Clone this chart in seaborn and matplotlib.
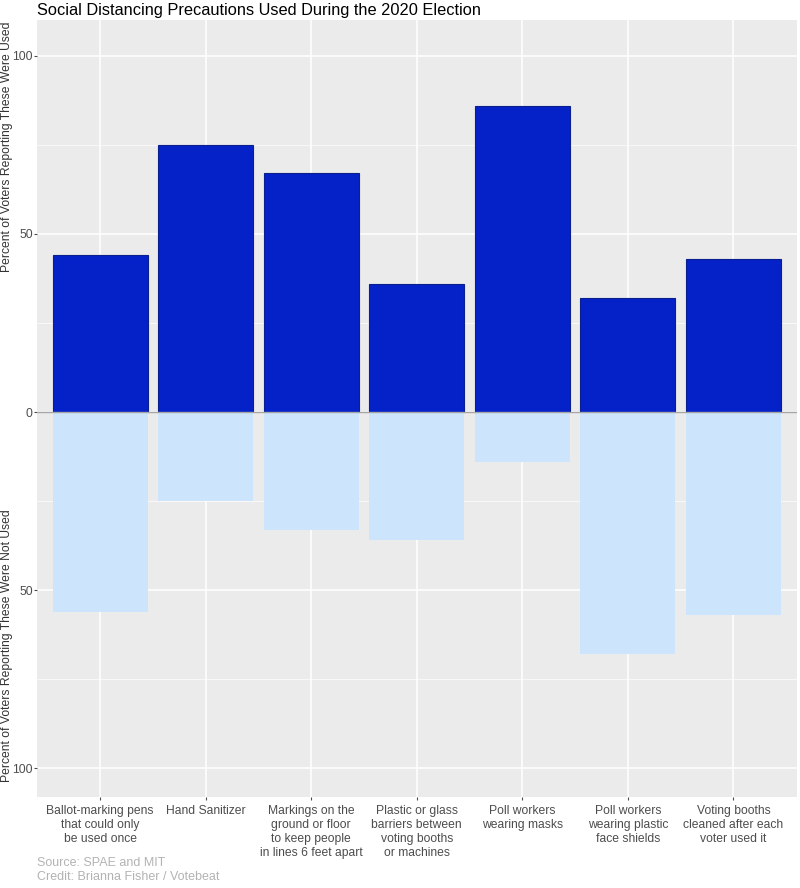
import matplotlib
matplotlib.use("Agg")
import matplotlib.pyplot as plt
import seaborn as sns
import pandas as pd
import numpy as np

categories = [
    "Ballot-marking pens\nthat could only\nbe used once",
    "Hand Sanitizer",
    "Markings on the\nground or floor\nto keep people\nin lines 6 feet apart",
    "Plastic or glass\nbarriers between\nvoting booths\nor machines",
    "Poll workers\nwearing masks",
    "Poll workers\nwearing plastic\nface shields",
    "Voting booths\ncleaned after each\nvoter used it",
]
used = [44, 75, 67, 36, 86, 32, 43]
not_used = [56, 25, 33, 36, 14, 68, 57]
y_ticks = [100, 50, 0, -50, -100]
y_tick_labels = ["100", "50", "0", "50", "100"]

sns.set_theme(style="darkgrid")
plt.rcParams['font.family'] = ['Liberation Sans', 'DejaVu Sans']

fig = plt.figure(figsize=(8, 8.88), dpi=100)
ax = fig.add_axes([0.046, 0.1025, 0.95, 0.875])
ax.set_facecolor("#EBEBEB")

df = pd.DataFrame({"cat": categories, "used": used, "neg": [-v for v in not_used]})
sns.barplot(data=df, x="cat", y="used", color="#0522C8", edgecolor="#0A1F8F",
            linewidth=0.8, width=0.9, saturation=1, ax=ax, zorder=3)
sns.barplot(data=df, x="cat", y="neg", color="#CCE4FC", linewidth=0,
            width=0.9, saturation=1, ax=ax, zorder=3)

ax.axhline(0, color="#A6A6A6", lw=1, zorder=4)
ax.set_xlim(-0.6, 6.6)
ax.set_ylim(-108, 110)
ax.set_yticks(y_ticks)
ax.set_yticklabels(y_tick_labels)
ax.set_yticks([75, 25, -25, -75], minor=True)
ax.grid(which="major", color="white", lw=1.1)
ax.grid(which="minor", axis="y", color="white", lw=0.5)
ax.set_xlabel("")
ax.set_ylabel("")
for s in ax.spines.values():
    s.set_visible(False)
ax.tick_params(axis="both", labelsize=8.7, colors="#4D4D4D", length=2.2, width=0.8,
               direction="out")
ax.tick_params(axis="y", left=True, color="#4D4D4D", pad=0.8)
ax.tick_params(axis="x", bottom=True, color="#4D4D4D", pad=3.8)
for t in ax.get_xticklabels():
    t.set_color("#4D4D4D")
    t.set_linespacing(1.2)
for t in ax.get_yticklabels():
    t.set_color("#4D4D4D")

fig.text(0.046, 1 - 3.5 / 888, "Social Distancing Precautions Used During the 2020 Election",
         fontsize=11.8, color="black", ha="left", va="top")
fig.text(0.0083, 1 - 147 / 888, "Percent of Voters Reporting These Were Used",
         rotation=90, fontsize=8.7, color="#333333", ha="center", va="center")
fig.text(0.0083, 1 - 646 / 888, "Percent of Voters Reporting These Were Not Used",
         rotation=90, fontsize=8.7, color="#333333", ha="center", va="center")
fig.text(0.046, 1 - 857 / 888, "Source: SPAE and MIT\nCredit: Brianna Fisher / Votebeat",
         fontsize=9.0, color="#B3B3B3", ha="left", va="top", linespacing=1.2)

fig.savefig("out.png", dpi=100)
